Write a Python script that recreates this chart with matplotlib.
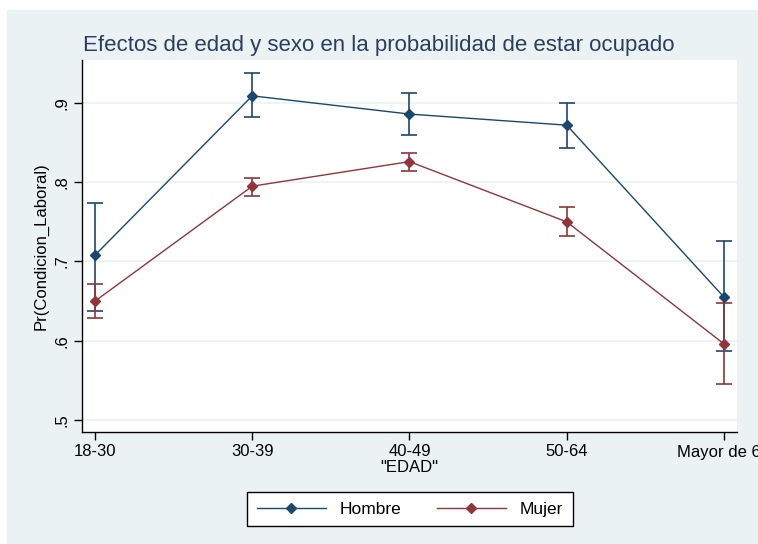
import matplotlib
matplotlib.use("Agg")
import matplotlib.pyplot as plt
from matplotlib.patches import Rectangle

# ---------------------------------------------------------------------------
# Datos
# ---------------------------------------------------------------------------
edades = ["18-30", "30-39", "40-49", "50-64", "Mayor de 65"]

hombre = [0.708, 0.909, 0.886, 0.872, 0.655]
hombre_inf = [0.638, 0.882, 0.860, 0.843, 0.587]
hombre_sup = [0.774, 0.938, 0.913, 0.900, 0.726]

mujer = [0.650, 0.795, 0.826, 0.750, 0.596]
mujer_inf = [0.629, 0.783, 0.814, 0.732, 0.546]
mujer_sup = [0.672, 0.805, 0.837, 0.769, 0.648]

yticks = [0.5, 0.6, 0.7, 0.8, 0.9]
ytick_labels = [".5", ".6", ".7", ".8", ".9"]

# ---------------------------------------------------------------------------
# Estilo
# ---------------------------------------------------------------------------
FONDO = "#eaf2f3"
AZUL = "#1a476f"
GRANATE = "#90353b"
TITULO = "#2b3f5c"
plt.rcParams["font.family"] = ["Liberation Sans Narrow", "Liberation Sans", "DejaVu Sans"]

fig = plt.figure(figsize=(7.58, 5.44), dpi=100, facecolor="white")
fig.patches.append(Rectangle((7 / 758, 0), 1, (544 - 10) / 544,
                             transform=fig.transFigure, color=FONDO, zorder=-10))

ax = fig.add_axes([82 / 758, (544 - 432) / 544, (737 - 82) / 758, (432 - 60) / 544])
ax.set_facecolor("white")
ax.set_zorder(1)

x = list(range(1, len(edades) + 1))


def serie(valores, inf, sup, color, nombre):
    err = [[v - a for v, a in zip(valores, inf)], [b - v for v, b in zip(valores, sup)]]
    ax.errorbar(x, valores, yerr=err, fmt="none", ecolor=color, elinewidth=1.2,
                capsize=6, capthick=1.2, zorder=3)
    ax.plot(x, valores, color=color, linewidth=1.0, marker="D", markersize=5,
            label=nombre, zorder=4)


serie(hombre, hombre_inf, hombre_sup, AZUL, "Hombre")
serie(mujer, mujer_inf, mujer_sup, GRANATE, "Mujer")

ax.set_xlim(1 - 13 / 157, 5 + 13 / 157)
ax.set_ylim(0.5 - 12 / 793, 0.9 + 43 / 793)
ax.set_xticks(x)
ax.set_xticklabels(edades, fontsize=12)
ax.set_yticks(yticks)
ax.set_yticklabels(ytick_labels, rotation=90, va="center", fontsize=12)
ax.grid(axis="y", color=FONDO, linewidth=1.2)
ax.set_axisbelow(True)
for lado in ("top", "right"):
    ax.spines[lado].set_visible(False)
for lado in ("left", "bottom"):
    ax.spines[lado].set_color("black")
    ax.spines[lado].set_linewidth(1.0)
ax.tick_params(direction="out", length=6, width=1, colors="black", pad=3)

ax.set_xlabel('"EDAD"', fontsize=12, labelpad=0)
ax.set_ylabel("Pr(Condicion_Laboral)", fontsize=12, labelpad=4)

fig.text(83 / 758, (544 - 45) / 544, "Efectos de edad y sexo en la probabilidad de estar ocupado",
         fontsize=16, color=TITULO, va="center", ha="left")

fig.legend(loc="center", bbox_to_anchor=(410 / 758, (544 - 509) / 544), ncol=2,
           frameon=True, fancybox=False, edgecolor="black", framealpha=1,
           fontsize=12.5, handlelength=4.0, columnspacing=2.0, borderpad=0.55)

fig.savefig("out.png", dpi=100, facecolor="white")
